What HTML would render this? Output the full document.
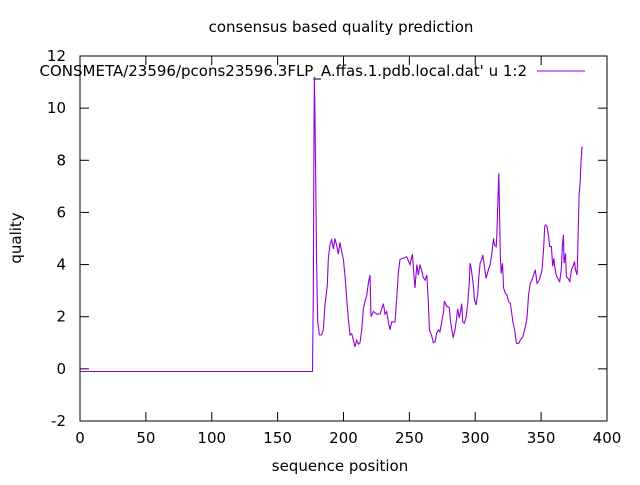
<!DOCTYPE html>
<html><head><meta charset="utf-8"><style>
body{margin:0;background:#fff}
svg text{font-family:"DejaVu Sans",sans-serif;font-size:15px;fill:#000}
</style></head><body>
<svg id="c" width="640" height="480" xmlns="http://www.w3.org/2000/svg">
<text x="341" y="32" text-anchor="middle">consensus based quality prediction</text>
<text x="340" y="471" text-anchor="middle">sequence position</text>
<text transform="translate(21,238) rotate(-90)" text-anchor="middle">quality</text>
<rect x="80" y="56" width="527" height="365" fill="none" stroke="#000" stroke-width="1"/>
<g id="ticks"></g>
<text x="527" y="76" text-anchor="end">CONSMETA/23596/pcons23596.3FLP_A.ffas.1.pdb.local.dat' u 1:2</text>
<line x1="537" y1="71" x2="585" y2="71" stroke="#9400d3" stroke-width="1"/>
<path id="series" fill="none" stroke="#9400d3" stroke-width="1.1"/>
</svg>
<script>
const xTicks=[0,50,100,150,200,250,300,350,400];
const yTicks=[-2,0,2,4,6,8,10,12];
const xs=[0,176.5,177.1,177.5,177.9,178.3,178.9,179.6,180.4,181.7,183.4,184.7,186.0,187.7,188.5,189.7,191.0,192.3,193.5,194.8,196.1,197.3,198.6,199.9,201.1,202.4,203.7,204.9,206.2,207.5,208.7,210.0,211.3,212.5,213.8,215.1,216.3,217.6,218.9,220.1,220.9,222.7,225.2,227.7,230.3,231.5,232.8,234.1,235.3,236.6,239.1,240.4,241.7,242.9,245.5,248.0,250.5,252.3,253.6,254.3,255.6,256.8,258.1,259.4,260.6,261.9,263.2,264.4,265.2,267.0,268.2,269.5,270.8,272.0,273.2,275.8,276.6,278.3,280.3,281.3,282.6,283.3,284.6,285.9,286.6,287.9,288.9,289.7,290.5,291.7,293.0,294.3,295.3,296.1,296.8,297.8,298.6,299.4,300.6,301.9,302.7,303.7,305.0,305.7,307.0,308.2,310.0,311.3,312.6,313.4,313.9,314.6,315.9,316.4,317.2,317.9,318.4,319.0,319.7,320.7,321.5,322.8,324.0,325.3,326.6,327.4,328.6,329.9,331.2,333.0,334.2,336.2,338.0,339.3,340.5,341.8,343.1,344.3,345.6,346.9,348.1,349.4,350.7,351.9,352.7,353.5,354.5,355.7,356.5,357.8,358.8,359.6,360.3,361.4,362.6,364.1,365.4,366.1,366.9,367.4,368.5,369.2,370.5,371.8,373.0,374.3,375.3,376.1,377.3,378.1,378.8,379.6,380.3,381.1];
const ys=[-0.1,-0.1,2.8,8.4,11.2,9.9,7.4,4.1,1.8,1.3,1.3,1.5,2.5,3.2,4.2,4.75,4.95,4.6,5.0,4.75,4.4,4.85,4.5,4.2,3.6,2.7,1.9,1.3,1.35,1.1,0.85,1.1,0.95,1.0,1.5,2.3,2.6,2.8,3.3,3.6,2.0,2.2,2.1,2.1,2.5,2.1,2.2,1.8,1.5,1.8,1.8,2.7,3.7,4.2,4.25,4.3,4.0,4.4,3.5,3.1,4.0,3.6,4.0,3.75,3.5,3.4,3.6,2.6,1.5,1.25,1.0,1.05,1.4,1.5,1.42,2.15,2.6,2.4,2.35,1.8,1.4,1.2,1.5,1.96,2.3,1.96,2.2,2.5,1.8,1.75,1.96,2.5,3.2,4.05,3.9,3.5,3.15,2.65,2.45,2.9,3.5,4.05,4.2,4.37,3.9,3.47,3.8,4.0,4.43,4.8,5.0,4.75,4.69,5.2,6.48,7.5,6.03,4.37,3.66,4.05,3.1,2.9,2.84,2.58,2.51,2.26,1.8,1.5,0.98,0.98,1.1,1.24,1.6,1.96,2.85,3.28,3.41,3.6,3.8,3.28,3.35,3.54,3.8,4.6,5.45,5.52,5.45,5.07,4.69,4.69,3.93,4.24,3.93,3.6,3.47,3.35,3.86,4.69,5.14,4.05,4.43,3.54,3.47,3.35,3.8,3.93,4.12,3.8,3.6,5.07,6.67,7.12,7.95,8.52];
const X=v=>80+(v-0)*527/400;
const Y=v=>421-(v+2)*365/14;
const NS="http://www.w3.org/2000/svg";
const g=document.getElementById('ticks');
function mk(t,a){const e=document.createElementNS(NS,t);for(const k in a)e.setAttribute(k,a[k]);g.appendChild(e);return e;}
xTicks.forEach(v=>{
  const x=X(v);
  const l1=mk('line',{x1:x,y1:421,x2:x,y2:412,stroke:'#000'});
  
  
  const l2=mk('line',{x1:x,y1:56,x2:x,y2:65,stroke:'#000'});
  
  
  const t=mk('text',{x:x,y:443,'text-anchor':'middle'});t.textContent=v;
  
  
});
yTicks.forEach(v=>{
  const y=Y(v);
  const l1=mk('line',{x1:80,y1:y,x2:89,y2:y,stroke:'#000'});
  
  
  const l2=mk('line',{x1:607,y1:y,x2:598,y2:y,stroke:'#000'});
  
  
  const t=mk('text',{x:66,y:y+5,'text-anchor':'end'});t.textContent=v;
  
  
});
let d='';
xs.forEach((x,i)=>{d+=(i?'L':'M')+X(x).toFixed(1)+','+Y(ys[i]).toFixed(1);});
document.getElementById('series').setAttribute('d',d);
</script>
</body></html>
